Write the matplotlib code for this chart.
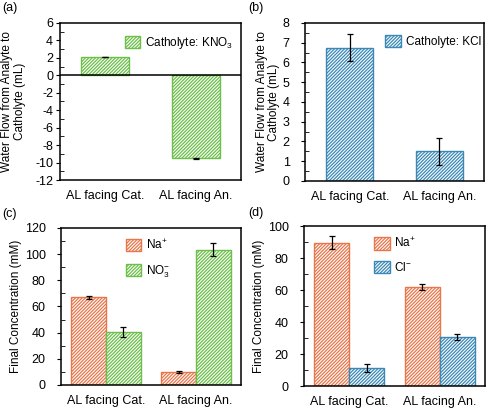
import matplotlib
matplotlib.use('Agg')
import matplotlib.pyplot as plt
import numpy as np

plt.rcParams['font.family'] = ['Liberation Sans', 'DejaVu Sans']
plt.rcParams['mathtext.fontset'] = 'custom'
plt.rcParams['mathtext.rm'] = 'Liberation Sans'
plt.rcParams['font.size'] = 8.5
plt.rcParams['hatch.linewidth'] = 0.9
plt.rcParams['axes.unicode_minus'] = False

categories = ['AL facing Cat.', 'AL facing An.']

# (a) catholyte KNO3
flow_kno3 = [2.1, -9.5]
flow_kno3_err = [0.05, 0.05]
# (b) catholyte KCl
flow_kcl = [6.75, 1.5]
flow_kcl_err = [0.7, 0.7]
# (c) final concentrations, KNO3 catholyte
na_c = [67, 10]
na_c_err = [1, 1]
no3_c = [40.5, 103.5]
no3_c_err = [4, 5]
# (d) final concentrations, KCl catholyte
na_d = [89.5, 62]
na_d_err = [4, 2]
cl_d = [11, 30.5]
cl_d_err = [2.5, 2]

green = '#6cbf4a'
blue = '#3a88b5'
orange = '#e8764a'

fig = plt.figure(figsize=(4.86, 4.09), dpi=100)
ax_a = fig.add_axes([0.1235, 0.5599, 0.3724, 0.3839])
ax_b = fig.add_axes([0.6276, 0.5575, 0.3683, 0.3863])
ax_c = fig.add_axes([0.1255, 0.0587, 0.3704, 0.3839])
ax_d = fig.add_axes([0.6255, 0.0562, 0.3724, 0.3912])

x = np.arange(len(categories))
ekw = dict(ecolor='black', elinewidth=0.9, capsize=2, capthick=0.9)
leg_kw = dict(frameon=False, fontsize=8.5, handlelength=1.3, handleheight=1.2,
              handletextpad=0.4, loc='upper left')


def hbar(ax, pos, vals, errs, color, width, label):
    ax.bar(pos, vals, width, yerr=errs, color='white', edgecolor=color,
           hatch='//////////', linewidth=1.0, label=label, error_kw=ekw, zorder=2)


def style(ax, ylim, major, minor, pad):
    ax.set_xlim(-0.5, 1.5)
    ax.set_ylim(*ylim)
    ax.set_yticks(np.arange(ylim[0], ylim[1] + major / 2, major))
    ax.set_yticks(np.arange(ylim[0], ylim[1] + minor / 2, minor), minor=True)
    ax.set_xticks(x)
    ax.set_xticklabels(categories, fontsize=9)
    ax.tick_params(axis='x', length=0, pad=7)
    ax.tick_params(axis='y', which='major', direction='out', length=3, labelsize=9, pad=pad)
    ax.tick_params(axis='y', which='minor', direction='in', length=3)
    for s in ax.spines.values():
        s.set_linewidth(1.1)


# (a)
hbar(ax_a, x, flow_kno3, flow_kno3_err, green, 0.53, 'Catholyte: KNO$_3$')
ax_a.axhline(0, color='black', lw=1.1, zorder=3)
style(ax_a, (-12, 6), 2, 1, 2)
ax_a.set_ylabel('Water Flow from Analyte to\nCatholyte (mL)', fontsize=8.5, linespacing=1.05)
ax_a.yaxis.set_label_coords(-0.19, 0.5)
ax_a.legend(bbox_to_anchor=(0.3, 0.99), **leg_kw)

# (b)
hbar(ax_b, x, flow_kcl, flow_kcl_err, blue, 0.53, 'Catholyte: KCl')
style(ax_b, (0, 8), 1, 0.5, 8)
ax_b.set_ylabel('Water Flow from Analyte to\nCatholyte (mL)', fontsize=8.5, linespacing=1.05)
ax_b.yaxis.set_label_coords(-0.14, 0.5)
ax_b.legend(bbox_to_anchor=(0.39, 0.99), **leg_kw)

# (c)
w = 0.385
hbar(ax_c, x - w / 2, na_c, na_c_err, orange, w, 'Na$^{+}$')
hbar(ax_c, x + w / 2, no3_c, no3_c_err, green, w, 'NO$_3^{-}$')
style(ax_c, (0, 120), 20, 10, 8)
ax_c.set_ylabel('Final Concentration (mM)', fontsize=8.5)
ax_c.yaxis.set_label_coords(-0.215, 0.5)
ax_c.legend(bbox_to_anchor=(0.3, 1.0), labelspacing=0.9, **leg_kw)

# (d)
hbar(ax_d, x - w / 2, na_d, na_d_err, orange, w, 'Na$^{+}$')
hbar(ax_d, x + w / 2, cl_d, cl_d_err, blue, w, 'Cl$^{-}$')
style(ax_d, (0, 100), 20, 10, 8)
ax_d.set_ylabel('Final Concentration (mM)', fontsize=8.5)
ax_d.yaxis.set_label_coords(-0.215, 0.5)
ax_d.legend(bbox_to_anchor=(0.33, 1.0), labelspacing=0.9, **leg_kw)

for lab, (px, py) in zip(['(a)', '(b)', '(c)', '(d)'],
                         [(2, 8), (248, 8), (2, 214), (248, 213)]):
    fig.text(px / 486, 1 - py / 409, lab, fontsize=9, va='center', ha='left')

fig.savefig('out.png', dpi=100)
